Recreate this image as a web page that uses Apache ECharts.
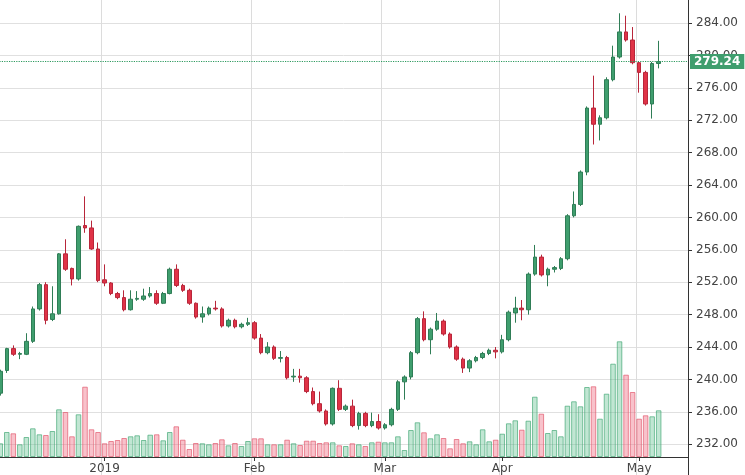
<!DOCTYPE html>
<html>
<head>
<meta charset="utf-8">
<script src="https://cdn.jsdelivr.net/npm/echarts@6/dist/echarts.min.js"></script>
<style>
    html, body { margin: 0; padding: 0; background: #fff; }
    #chart { width: 745px; height: 475px; }
</style>
</head>
<body>
<div id="chart"></div>
<script>
    // [open, close, low, high] per trading day
    var candles = [
        [238.3, 241.0, 238.0, 241.2], [241.1, 243.8, 240.8, 243.9], [243.8, 243.1, 242.9, 244.2], [243.1, 243.2, 242.5, 243.4],
        [243.1, 244.7, 243.0, 245.7], [244.7, 248.7, 244.5, 249.0], [248.7, 251.7, 248.5, 251.9], [251.7, 247.3, 246.8, 252.0],
        [247.4, 248.1, 247.2, 251.5], [248.1, 255.5, 248.0, 255.6], [255.5, 253.6, 253.4, 257.3], [253.7, 252.4, 251.6, 253.8],
        [252.4, 258.9, 252.2, 259.0], [259.0, 258.7, 258.1, 262.6], [258.7, 256.1, 256.0, 259.6], [256.1, 252.2, 252.0, 256.9],
        [252.3, 251.9, 251.5, 254.2], [251.9, 250.6, 250.4, 252.0], [250.6, 250.1, 249.9, 250.8], [250.1, 248.6, 248.4, 251.0],
        [248.6, 249.9, 248.5, 251.0], [249.9, 250.0, 249.7, 250.9], [249.9, 250.3, 249.7, 251.2], [250.3, 250.6, 250.1, 251.4],
        [250.6, 249.4, 249.2, 251.0], [249.4, 250.6, 249.3, 250.8], [250.6, 253.6, 250.5, 253.8], [253.6, 251.6, 251.4, 254.2],
        [251.6, 251.0, 250.8, 251.8], [251.0, 249.4, 249.2, 251.2], [249.4, 247.7, 247.5, 249.5], [247.7, 248.1, 247.0, 249.0],
        [248.1, 248.8, 247.9, 249.0], [248.8, 248.7, 248.5, 249.7], [248.7, 246.6, 246.4, 248.9], [246.6, 247.3, 246.4, 247.5],
        [247.3, 246.5, 246.3, 247.5], [246.5, 246.8, 246.3, 247.0], [246.8, 247.0, 246.6, 247.6], [247.0, 245.1, 244.9, 247.2],
        [245.1, 243.3, 243.1, 245.6], [243.3, 244.0, 243.1, 244.6], [244.0, 242.6, 242.4, 244.2], [242.6, 242.7, 242.1, 243.5],
        [242.7, 240.2, 240.0, 242.9], [240.3, 240.4, 239.7, 241.3], [240.4, 240.2, 239.6, 241.3], [240.2, 238.5, 238.3, 240.4],
        [238.5, 237.0, 236.8, 239.0], [237.0, 236.1, 235.9, 238.5], [236.1, 234.5, 234.3, 236.3], [234.5, 238.9, 234.3, 239.0],
        [238.9, 236.3, 236.1, 239.9], [236.3, 236.7, 236.1, 236.9], [236.7, 234.3, 234.1, 237.5], [234.3, 235.8, 233.8, 236.0],
        [235.8, 234.3, 234.1, 236.0], [234.3, 234.8, 234.1, 235.9], [234.8, 234.0, 233.8, 235.7], [234.0, 234.4, 233.8, 234.6],
        [234.4, 236.3, 234.2, 236.5], [236.3, 239.7, 236.1, 239.9], [239.7, 240.3, 237.5, 240.5], [240.3, 243.3, 240.0, 243.5],
        [243.3, 247.5, 243.1, 247.7], [247.5, 244.9, 244.7, 248.4], [244.9, 246.2, 243.1, 246.4], [246.2, 247.2, 246.0, 248.2],
        [247.2, 245.6, 245.4, 247.4], [245.6, 244.0, 243.8, 245.8], [244.0, 242.5, 242.3, 244.2], [242.5, 241.4, 240.8, 242.7],
        [241.4, 242.3, 240.9, 242.5], [242.3, 242.7, 242.1, 242.9], [242.7, 243.2, 242.5, 243.4], [243.2, 243.6, 243.0, 243.8],
        [243.6, 243.4, 242.6, 244.0], [243.4, 244.9, 243.2, 245.5], [244.9, 248.3, 244.7, 248.5], [248.2, 248.8, 247.0, 250.2],
        [248.8, 248.6, 247.3, 249.8], [248.6, 253.0, 248.0, 253.2], [253.0, 255.1, 252.8, 256.6], [255.1, 252.9, 252.7, 255.4],
        [252.9, 253.6, 251.5, 253.8], [253.6, 253.8, 253.2, 254.0], [253.7, 254.9, 253.5, 255.1], [254.9, 260.2, 254.7, 260.4],
        [260.2, 261.6, 260.0, 263.2], [261.6, 265.6, 261.4, 265.8], [265.6, 273.5, 265.2, 273.7], [273.5, 271.5, 269.0, 277.5],
        [271.5, 272.3, 269.5, 272.6], [272.3, 277.0, 272.1, 277.3], [277.0, 279.8, 276.8, 281.2], [279.8, 282.9, 279.6, 285.2],
        [282.9, 281.9, 281.7, 284.9], [281.9, 279.1, 278.9, 283.5], [279.1, 277.9, 275.4, 279.3], [277.9, 274.0, 273.8, 278.1],
        [274.0, 279.0, 272.2, 279.2], [279.0, 279.24, 278.4, 281.8]
    ];

    var volumes = [
        13.7, 25, 23.7, 12.7, 20, 28.7, 22.7, 22, 26, 47.7, 45, 20.7, 42.7, 70.3, 27.7, 25,
        13.7, 16, 17, 19, 20.7, 21.7, 17, 22.3, 22.7, 16.7, 25, 30.7, 17.3, 8, 14, 13.7, 12.7, 14, 17.7, 11.7, 14, 11, 16,
        18.7, 18.7, 12.7, 12.7, 12.7, 17.3, 13.7, 12, 16.3, 16.3, 14, 14.7, 14.7, 11.7, 11, 13.7, 12.7, 11, 14.7, 15.3,
        14.7, 14.7, 20.7, 7, 27, 34.7, 24.7, 18.7, 22.7, 19, 8.7, 18, 13.7, 15.7, 12.7, 27.7, 15.7, 17.3, 23.3, 33.7,
        36.7, 27.3, 36.3, 60.3, 43.3, 24, 27, 20.7, 51.3, 55.7, 50.7, 70, 70.7, 38.3, 63.3, 93.3, 115.7, 82.3, 65,
        38.3, 41.7, 40.7, 46.7
    ];

    // x positions of month labels (candle index) as drawn in the picture
    var monthTicks = { 16: '2019', 39: 'Feb', 59: 'Mar', 77: 'Apr', 98: 'May' };
    var lastPrice = 279.24;

    // trading days from 2018-12-07
    var holidays = ['2018-12-25', '2019-01-01', '2019-01-21', '2019-02-18', '2019-04-19'];
    var dates = [];
    var d = new Date(Date.UTC(2018, 11, 7));
    while (dates.length < candles.length + 4) {
        var s = d.toISOString().slice(0, 10);
        var wd = d.getUTCDay();
        if (wd !== 0 && wd !== 6 && holidays.indexOf(s) < 0) dates.push(s);
        d.setUTCDate(d.getUTCDate() + 1);
    }

    var upColor = '#3f9e6e', downColor = '#e03347';
    var volData = volumes.map(function (v, i) {
        var up = candles[i][1] >= candles[i][0];
        return {
            value: v,
            itemStyle: {
                color: up ? 'rgba(92,190,140,0.38)' : 'rgba(238,110,130,0.42)',
                borderColor: up ? 'rgba(70,170,120,0.7)' : 'rgba(225,90,110,0.7)',
                borderWidth: 1
            }
        };
    });

    function isTick(i) { return monthTicks[i] !== undefined; }

    var option = {
        animation: false,
        grid: [
            { left: -3, right: 57, top: -9.4, bottom: -1.6, outerBoundsMode: 'none' },
            { left: -3, right: 57, top: 307, bottom: 18, outerBoundsMode: 'none' }
        ],
        xAxis: [{
            type: 'category', gridIndex: 0, data: dates, boundaryGap: true,
            axisLine: { show: false }, axisTick: { show: false }, axisLabel: { show: false },
            splitLine: { show: true, interval: isTick, lineStyle: { color: '#dcdcdc' } }
        }, {
            type: 'category', gridIndex: 1, data: dates, boundaryGap: true,
            axisLine: { show: true, lineStyle: { color: '#333' } },
            axisTick: { show: true, interval: isTick, length: 4, alignWithLabel: true, lineStyle: { color: '#333' } },
            axisLabel: {
                interval: isTick, color: '#444', fontSize: 12, fontFamily: 'DejaVu Sans', margin: 6,
                formatter: function (v, i) { return monthTicks[i] || ''; }
            },
            splitLine: { show: false }
        }],
        yAxis: [{
            type: 'value', gridIndex: 0, position: 'right', min: 228, max: 288, interval: 4,
            axisLine: { show: true, lineStyle: { color: '#333' } },
            axisTick: { show: true, length: 4, lineStyle: { color: '#333' } },
            axisLabel: { color: '#444', fontSize: 12, fontFamily: 'DejaVu Sans', margin: 8,
                showMinLabel: false, showMaxLabel: false,
                formatter: function (v) { return v.toFixed(2); } },
            splitLine: { lineStyle: { color: '#e0e0e0' } }
        }, {
            type: 'value', gridIndex: 1, min: 0, max: 150, show: false
        }],
        series: [{
            type: 'bar', xAxisIndex: 1, yAxisIndex: 1, data: volData, barWidth: '85%', z: 1
        }, {
            type: 'candlestick', xAxisIndex: 0, yAxisIndex: 0, barWidth: '62%', z: 3,
            data: candles.map(function (c) { return [c[0], c[1], c[2], c[3]]; }),
            itemStyle: {
                color: upColor, color0: downColor,
                borderColor: '#2f7d56', borderColor0: '#b8263a', borderWidth: 1
            },
            markLine: {
                symbol: 'none', silent: true,
                data: [{ yAxis: lastPrice }],
                lineStyle: { color: '#2e9a5f', type: 'dotted', width: 1.2, opacity: 1 },
                label: {
                    position: 'end', distance: 2, formatter: lastPrice.toFixed(2),
                    color: '#fff', fontWeight: 'bold', fontSize: 12, fontFamily: 'DejaVu Sans',
                    backgroundColor: '#3f9e6e', padding: [2, 4, 1, 4]
                }
            }
        }]
    };

    var myChart = echarts.init(document.getElementById('chart'));
    myChart.setOption(option);
</script>
</body>
</html>
